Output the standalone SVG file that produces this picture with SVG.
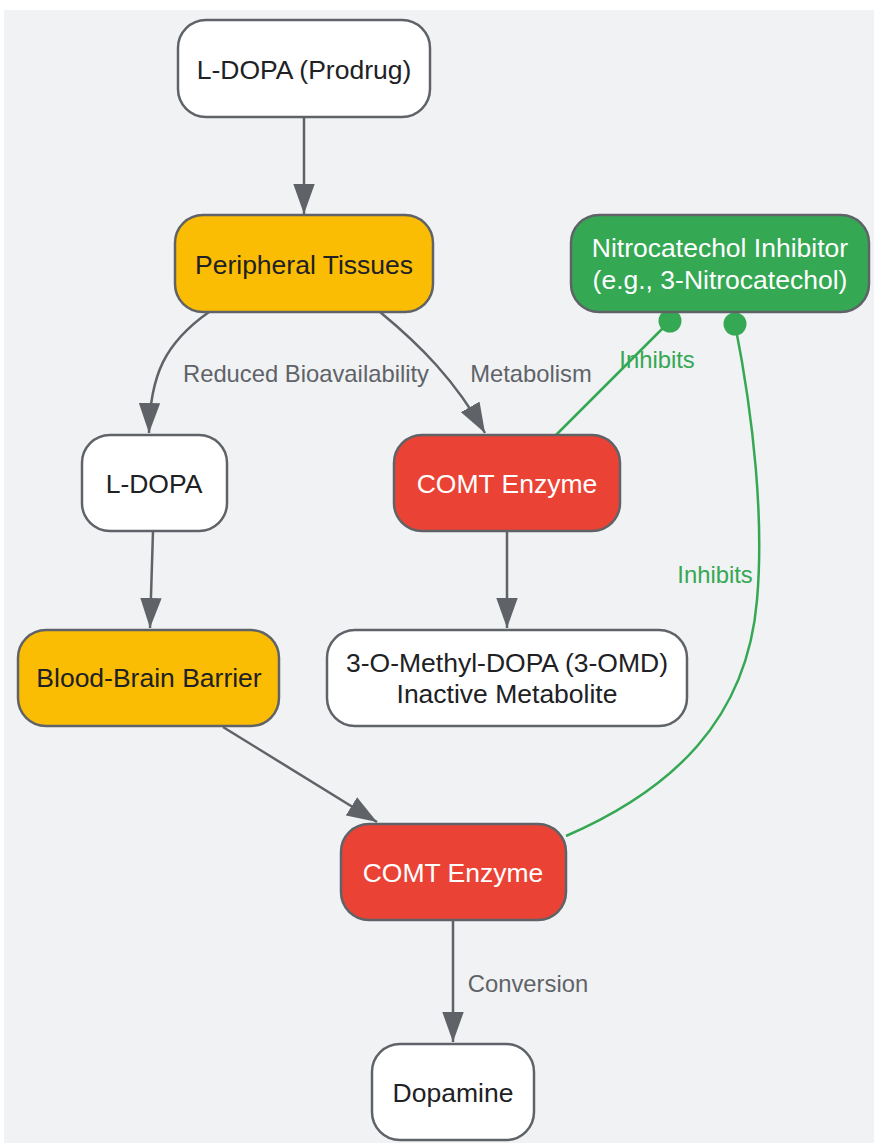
<svg xmlns="http://www.w3.org/2000/svg" width="874" height="1143" viewBox="0 0 874 1143">
<style>
.n{stroke:#5f6368;stroke-width:2.5}
.w{fill:#ffffff}.y{fill:#fbbc04}.r{fill:#ea4335}.g{fill:#34a853}
.t{font-family:"Liberation Sans",Arial,sans-serif;font-size:26.5px;text-anchor:middle;fill:#202124}
.tw{fill:#ffffff}
.e{fill:none;stroke:#5f6368;stroke-width:2.5}
.i{fill:none;stroke:#34a853;stroke-width:2.5}
.l{font-family:"Liberation Sans",Arial,sans-serif;font-size:23.8px;text-anchor:middle;fill:#5f6368}
.lg{fill:#34a853}
</style>
<defs>
<marker id="ah" markerUnits="userSpaceOnUse" markerWidth="30" markerHeight="22" viewBox="0 0 28 20" refX="28" refY="10" orient="auto">
<path d="M0,0 L28,10 L0,20 z" fill="#5f6368"/>
</marker>
</defs>
<rect x="4" y="10" width="870" height="1133" fill="#f1f2f4"/>
<g id="connectors">
<path class="e" d="M304,117 L304,214" marker-end="url(#ah)"/>
<path class="e" d="M209,312 C165,343 150,375 149,433" marker-end="url(#ah)"/>
<path class="e" d="M380,312 C420,345 455,380 485,433" marker-end="url(#ah)"/>
<path class="e" d="M153,531 L150,628" marker-end="url(#ah)"/>
<path class="e" d="M507,531 L507,628" marker-end="url(#ah)"/>
<path class="e" d="M223,727 L377,822" marker-end="url(#ah)"/>
<path class="e" d="M453,920 L453,1042" marker-end="url(#ah)"/>
<path class="i" d="M670,321 L556,435"/>
<path class="i" d="M735,324 C754,420 764,520 757,600 C747,720 672,790 566,836"/>
<circle cx="670" cy="321" r="11.5" fill="#34a853"/>
<circle cx="735" cy="324" r="11.5" fill="#34a853"/>
<text class="l" x="306" y="382">Reduced Bioavailability</text>
<text class="l" x="531" y="382">Metabolism</text>
<text class="l lg" x="657" y="368">Inhibits</text>
<text class="l lg" x="715" y="583">Inhibits</text>
<text class="l" x="528" y="992">Conversion</text>
</g>
<g id="n1"><rect class="n w" x="178" y="20" width="252" height="97" rx="28"/><text class="t" x="304" y="79">L-DOPA (Prodrug)</text></g>
<g id="n2"><rect class="n y" x="175" y="215" width="258" height="97" rx="28"/><text class="t" x="304" y="274">Peripheral Tissues</text></g>
<g id="n3"><rect class="n g" x="571" y="215" width="298" height="97" rx="28"/><text class="t tw" x="720" y="257">Nitrocatechol Inhibitor</text><text class="t tw" x="720" y="289">(e.g., 3-Nitrocatechol)</text></g>
<g id="n4"><rect class="n w" x="82" y="435" width="145" height="96" rx="28"/><text class="t" x="154" y="493">L-DOPA</text></g>
<g id="n5"><rect class="n r" x="394" y="435" width="226" height="96" rx="28"/><text class="t tw" x="507" y="493">COMT Enzyme</text></g>
<g id="n6"><rect class="n y" x="18" y="630" width="261" height="96" rx="28"/><text class="t" x="149" y="687">Blood-Brain Barrier</text></g>
<g id="n7"><rect class="n w" x="327" y="630" width="360" height="96" rx="28"/><text class="t" x="507" y="672">3-O-Methyl-DOPA (3-OMD)</text><text class="t" x="507" y="703">Inactive Metabolite</text></g>
<g id="n8"><rect class="n r" x="341" y="824" width="225" height="96" rx="28"/><text class="t tw" x="453" y="882">COMT Enzyme</text></g>
<g id="n9"><rect class="n w" x="372" y="1044" width="162" height="96" rx="28"/><text class="t" x="453" y="1102">Dopamine</text></g>
</svg>
